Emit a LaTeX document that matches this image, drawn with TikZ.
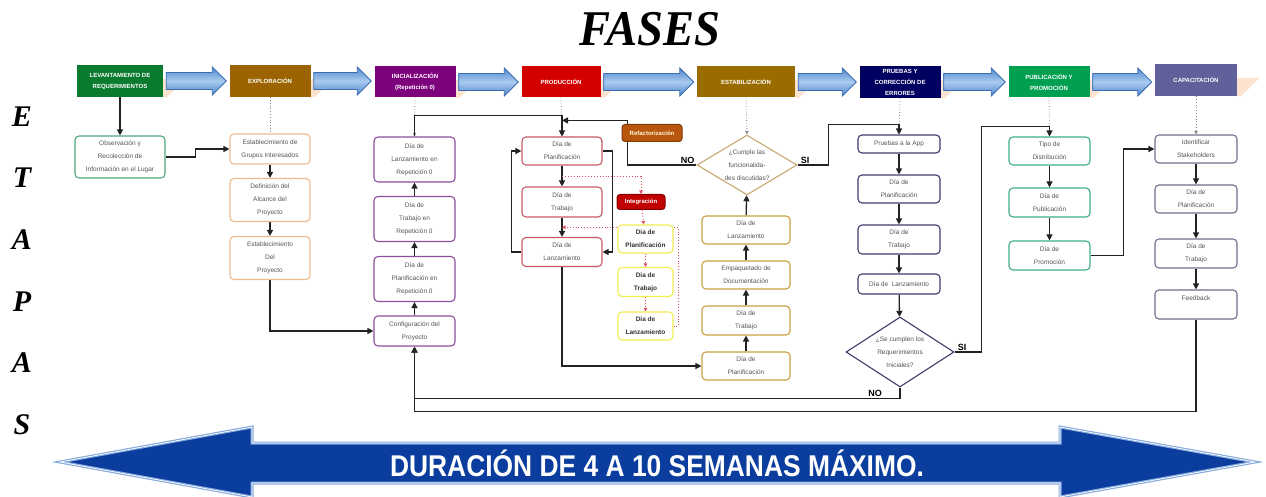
\documentclass[tikz,border=0pt]{standalone}
\usepackage{fontspec}
\setmainfont{Liberation Sans}
\newfontfamily\serifF{Liberation Serif}
\usetikzlibrary{shapes.geometric,arrows.meta,calc}
\pgfdeclarelayer{bg}
\pgfsetlayers{bg,main}
\definecolor{cA}{HTML}{0A7A2E}
\definecolor{cB}{HTML}{9C6400}
\definecolor{cC}{HTML}{7D007D}
\definecolor{cD}{HTML}{D40000}
\definecolor{cE}{HTML}{9A6C00}
\definecolor{cF}{HTML}{000060}
\definecolor{cG}{HTML}{00A050}
\definecolor{cH}{HTML}{60609A}
\definecolor{bObs}{HTML}{50A878}
\definecolor{bExp}{HTML}{EDBB8E}
\definecolor{bIni}{HTML}{8C4F9E}
\definecolor{bPro}{HTML}{C55A64}
\definecolor{bYel}{HTML}{F2EE50}
\definecolor{bEst}{HTML}{C8A040}
\definecolor{bDia}{HTML}{C8A870}
\definecolor{bPru}{HTML}{3C3C6E}
\definecolor{bPub}{HTML}{3FAE84}
\definecolor{bCap}{HTML}{707090}
\definecolor{txt}{HTML}{555555}
\definecolor{lnk}{HTML}{222222}
\definecolor{dotc}{HTML}{8C8C8C}
\definecolor{redd}{HTML}{E05060}
\definecolor{refa}{HTML}{B8560E}
\definecolor{integ}{HTML}{C00000}
\definecolor{blA}{HTML}{4F86CC}
\definecolor{blB}{HTML}{A9CBF0}
\definecolor{blD}{HTML}{3A6CB0}
\definecolor{peach}{HTML}{FCE3CF}
\definecolor{durB}{HTML}{0B3D9E}
\definecolor{durL}{HTML}{86AADE}
\begin{document}
\begin{tikzpicture}[x=1pt,y=-1pt,
  sz/.style 2 args={minimum width=#1pt, minimum height=#2pt},
  hdr/.style={fill=#1, text=white, font=\bfseries\fontsize{6}{11}\selectfont, align=center, inner sep=0pt},
  bx/.style={draw=#1, fill=white, rounded corners=4pt, line width=1.1pt, text=txt, font=\fontsize{6.5}{13}\selectfont, align=center, inner sep=0pt},
  ybx/.style={bx=bYel, text=black!80, font=\bfseries\fontsize{6.5}{13}\selectfont},
  dia/.style={draw=#1, fill=white, diamond, line width=1.1pt, text=txt, font=\fontsize{6.5}{13}\selectfont, align=center, inner sep=0pt},
  tag/.style={fill=#1, draw=#1!70!black, rounded corners=3pt, line width=1pt, font=\bfseries\fontsize{6}{8}\selectfont, inner sep=0pt},
  con/.style={draw=lnk, line width=1.3pt, -{Triangle[length=6pt,width=6pt]}},
  hint/.style={draw=dotc, dotted, line width=0.8pt, -{Triangle[length=3.5pt,width=3.5pt]}},
  rhint/.style={draw=redd, dotted, line width=0.9pt, -{Triangle[length=3.5pt,width=3.5pt]}},
  barrow/.style={top color=blA, bottom color=blA, middle color=blB, draw=blD, line width=0.8pt},
  lbl/.style={font=\bfseries\fontsize{9}{9}\selectfont, inner sep=0pt},
  etapa/.style={font=\serifF\bfseries\itshape\fontsize{30}{30}\selectfont, inner sep=0pt}
]
\useasboundingbox (0,0) rectangle (1266,497);

% ---------- titles ----------
\node[font=\serifF\bfseries\itshape\fontsize{50}{50}\selectfont, inner sep=0pt] (title) at (650,29) {\scalebox{0.93}[1]{FASES}};
\foreach \l/\yy [count=\i] in {E/117,T/178,A/240,P/302,A/363,S/425}
  \node[etapa] (et\i) at (22,\yy) {\l};

% ---------- headers ----------
\node[hdr=cA, sz={86}{32}] (hA) at (120,81) {LEVANTAMIENTO DE\\REQUERIMIENTOS};
\node[hdr=cB, sz={81}{32}] (hB) at (270,81) {EXPLORACIÓN};
\node[hdr=cC, sz={81}{31}] (hC) at (415,82) {INICIALIZACIÓN\\(Repetición 0)};
\node[hdr=cD, sz={79}{31}] (hD) at (561,82) {PRODUCCIÓN};
\node[hdr=cE, sz={98}{31}] (hE) at (746,82) {ESTABILIZACIÓN};
\node[hdr=cF, sz={81}{32}] (hF) at (900,82) {PRUEBAS Y\\CORRECCIÓN DE\\ERRORES};
\node[hdr=cG, sz={81}{31}] (hG) at (1049,82) {PUBLICACIÓN Y\\PROMOCIÓN};
\node[hdr=cH, sz={82}{32}] (hH) at (1196,80) {CAPACITACIÓN};

% ---------- levantamiento ----------
\node[bx=bObs, sz={90}{42}] (o1) at (120,157) {Observación y\\Recolección de\\Información en el Lugar};

% ---------- exploracion ----------
\node[bx=bExp, sz={80}{30}] (x1) at (270,149) {Establecimiento de\\Grupos Interesados};
\node[bx=bExp, sz={80}{43}] (x2) at (270,200) {Definición del\\Alcance del\\Proyecto};
\node[bx=bExp, sz={80}{43}] (x3) at (270,258) {Establecimiento\\Del\\Proyecto};

% ---------- inicializacion ----------
\node[bx=bIni, sz={81}{45}] (i1) at (414.5,159.5) {Día de\\Lanzamiento en\\Repetición 0};
\node[bx=bIni, sz={81}{45}] (i2) at (414.5,219) {Día de\\Trabajo en\\Repetición 0};
\node[bx=bIni, sz={81}{45}] (i3) at (414.5,279) {Día de\\Planificación en\\Repetición 0};
\node[bx=bIni, sz={81}{30}] (i4) at (414.5,331) {Configuración del\\Proyecto};

% ---------- produccion ----------
\node[bx=bPro, sz={80}{28}] (p1) at (562,151) {Día de\\Planificación};
\node[bx=bPro, sz={80}{30}] (p2) at (562,202) {Día de\\Trabajo};
\node[bx=bPro, sz={80}{29}] (p3) at (562,252) {Día de\\Lanzamiento};
\node[tag=refa, text=white!85!yellow, sz={60}{17}] (rf) at (652,133) {Refactorización};
\node[tag=integ, text=white, sz={48}{15}] (ig) at (641,202) {Integración};
\node[ybx, sz={55}{28}] (y1) at (645.5,239) {Dia de\\Planificación};
\node[ybx, sz={55}{29}] (y2) at (645.5,282) {Dia de\\Trabajo};
\node[ybx, sz={55}{28}] (y3) at (645.5,326) {Dia de\\Lanzamiento};

% ---------- estabilizacion ----------
\node[dia=bDia, aspect=1.67, sz={100}{60}] (d1) at (747,165) {¿Cumple las\\funcionalida-\\des discutidas?};
\node[bx=bEst, sz={88}{28}] (e4) at (746,230) {Día de\\Lanzamiento};
\node[bx=bEst, sz={88}{28}] (e3) at (746,275) {Empaquetado de\\Documentación};
\node[bx=bEst, sz={88}{29}] (e2) at (746,320.5) {Día de\\Trabajo};
\node[bx=bEst, sz={88}{28}] (e1) at (746,366) {Día de\\Planificación};

% ---------- pruebas ----------
\node[bx=bPru, sz={82}{18}] (u1) at (899,144) {Pruebas a la App};
\node[bx=bPru, sz={82}{28}] (u2) at (899,189) {Día de\\Planificación};
\node[bx=bPru, sz={82}{29}] (u3) at (899,239.5) {Día de\\Trabajo};
\node[bx=bPru, sz={82}{20}] (u4) at (899,284) {Día de\ \ Lanzamiento};
\node[dia=bPru, aspect=1.54, sz={108}{70}] (d2) at (900,352) {¿Se cumplen los\\Requerimientos\\Iniciales?};

% ---------- publicacion ----------
\node[bx=bPub, sz={81}{28}] (g1) at (1049.5,151) {Tipo de\\Distribución};
\node[bx=bPub, sz={81}{29}] (g2) at (1049.5,202.5) {Día de\\Publicación};
\node[bx=bPub, sz={81}{29}] (g3) at (1049.5,255.5) {Día de\\Promoción};

% ---------- capacitacion ----------
\node[bx=bCap, sz={82}{28}] (c1) at (1196,149) {Identificar\\Stakeholders};
\node[bx=bCap, sz={82}{28}] (c2) at (1196,199) {Día de\\Planificación};
\node[bx=bCap, sz={82}{29}] (c3) at (1196,253.5) {Día de\\Trabajo};
\node[bx=bCap, sz={82}{29}] (c4) at (1196,304.5) {Feedback\\~};

% ---------- branch labels ----------
\node[lbl, anchor=south east] (no1) at ($(d1.west)+(-2,-1.5)$) {NO};
\node[lbl, anchor=south west] (si1) at ($(d1.east)+(3,-1.5)$) {SI};
\node[lbl, anchor=south west] (si2) at ($(d2.east)+(3,-1.5)$) {SI};
\node[lbl, anchor=south east] (no2) at ($(d2.south)+(-18,9.5)$) {NO};

% ---------- bottom duration arrow ----------
\path[draw=durL, line width=3pt, fill=durB, line join=miter]
  (60,462) -- (252,427) -- (252,443) -- (1060,443) -- (1060,427) -- (1255,462)
  -- (1060,497) -- (1060,483) -- (252,483) -- (252,497) -- cycle;
\path[draw=white, line width=0.7pt, line join=miter]
  (60,462) -- (252,427) -- (252,443) -- (1060,443) -- (1060,427) -- (1255,462)
  -- (1060,497) -- (1060,483) -- (252,483) -- (252,497) -- cycle;
\node[text=white, font=\bfseries\fontsize{30}{30}\selectfont, inner sep=0pt] (dur) at (657,463)
  {\scalebox{0.88}[1]{DURACIÓN DE 4 A 10 SEMANAS MÁXIMO.}};

% ---------- connectors (behind boxes) ----------
\begin{pgfonlayer}{bg}
\fill[white] (0,0) rectangle (1266,497);
\foreach \h in {hA,hB,hC,hD,hE,hF,hG,hH}
  \fill[peach] ($(\h.south east)+(0,-18)$) -- ($(\h.south east)+(22,-18)$)
     -- ($(\h.south east)+(4,0)$) -- (\h.south east) -- cycle;
\foreach \a/\b in {hA/hB,hB/hC,hC/hD,hD/hE,hE/hF,hF/hG,hG/hH}
  \draw[barrow] let \p1=($(\a.east)+(3,0)$), \p2=($(\b.west)+(-3,0)$) in
    (\x1,\y1+8.5pt) -- (\x2-14pt,\y1+8.5pt) -- (\x2-14pt,\y1+14pt) -- (\x2,\y1)
    -- (\x2-14pt,\y1-14pt) -- (\x2-14pt,\y1-8.5pt) -- (\x1,\y1-8.5pt) -- cycle;

% header hints
\draw[hint, -] (hB.south) -- (x1.north);
\draw[hint] (hC.south) -- (i1.north);
\draw[hint] (hD.south) -- (p1.north);
\draw[hint] (hE.south) -- (d1.north);
\draw[hint] (hF.south) -- (u1.north);
\draw[hint] (hG.south) -- (g1.north);
\draw[hint] (hH.south) -- (c1.north);

% levantamiento / exploracion
\draw[con] (hA.south) -- (o1.north);
\draw[con] (o1.east) -- ++(30,0) |- (x1.west);
\draw[con] (x1) -- (x2);
\draw[con] (x2) -- (x3);
\draw[con] (x3.south) |- (i4.west);

% inicializacion
\draw[con] (i4) -- (i3);
\draw[con] (i3) -- (i2);
\draw[con] (i2) -- (i1);
\draw[con] (i1.north) -- ++(0,-21) -| (p1.north);

% produccion
\coordinate (j1) at ($(p1.north)+(0,-16)$);
\draw[con] (p1) -- (p2);
\draw[con] (p2) -- (p3);
\draw[con] (p3.west) -- ++(-10,0) |- (p1.west);
\draw[con] (p1.east) -- ++(10,0) |- (p3.east);
\draw[rhint] ($(p1.south)!0.5!(p2.north)$) -| (ig.north);
\draw[rhint] (ig) -- (y1);
\draw[rhint] (y1) -- (y2);
\draw[rhint] (y2) -- (y3);
\draw[rhint] (y3.east) -- ++(5,0) |- ($(p2.south)!0.5!(p3.north)$);
\draw[con] (p3.south) |- (e1.west);

% estabilizacion
\draw[con] (e1) -- (e2);
\draw[con] (e2) -- (e3);
\draw[con] (e3) -- (e4);
\draw[con] (e4) -- (d1);
\draw[con] (d1.west) -| ($(rf.west)+(6,0)$) |- (j1);
\draw[con] (d1.east) -- ++(31,0) |- ($(u1.north)+(0,-10)$) -- (u1.north);

% pruebas
\draw[con] (u1) -- (u2);
\draw[con] (u2) -- (u3);
\draw[con] (u3) -- (u4);
\draw[con] (u4) -- (d2);
\draw[con] (d2.east) -- ++(27,0) |- ($(g1.north)+(0,-10)$) -- (g1.north);
\draw[con] (d2.south) -- ++(0,11) -| (i4.south);

% publicacion / capacitacion
\draw[con] (g1) -- (g2);
\draw[con] (g2) -- (g3);
\draw[con] (g3.east) -- ++(33,0) |- (c1.west);
\draw[con] (c1) -- (c2);
\draw[con] (c2) -- (c3);
\draw[con] (c3) -- (c4);
\draw[con] (c4.south) -- ++(0,92) -| (i4.south);
\end{pgfonlayer}
\end{tikzpicture}
\end{document}
